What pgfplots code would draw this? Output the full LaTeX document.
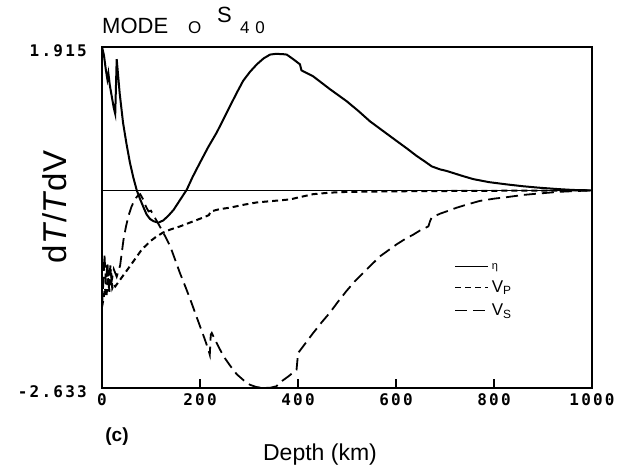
\documentclass[border=0pt]{standalone}
\usepackage{pgfplots}
\pgfplotsset{compat=1.18}
\usepackage{fontspec}
\setmainfont{Liberation Sans}
\newfontfamily\tickfont[LetterSpace=14]{DejaVu Sans Mono}
\begin{document}
\begin{tikzpicture}
\useasboundingbox (-102bp,-87bp) rectangle (515bp,388bp);
\begin{axis}[
  at={(0,0)}, anchor=south west,
  scale only axis, width=490bp, height=341.3bp,
  xmin=0, xmax=1000, ymin=-2.633, ymax=1.915,
  xtick={0,200,400,600,800,1000},
  xticklabels={0,200,400,600,800,1000},
  ytick={-2.633,1.915},
  yticklabels={-2.633,1.915},
  xtick pos=bottom, ytick pos=left,
  tick align=inside,
  major tick length=9bp,
  x tick style={line width=1.4bp, black},
  y tick style={draw=none},
  axis line style={line width=2bp},
  xticklabel style={font=\tickfont\bfseries\fontsize{16bp}{16bp}\selectfont, anchor=north, inner sep=0pt, yshift=-5bp},
  yticklabel style={font=\tickfont\bfseries\fontsize{16bp}{16bp}\selectfont, anchor=east, inner sep=0pt, xshift=-15bp, yshift=-4bp},
  clip=false,
  legend image code/.code={\draw[#1, line width=0.9bp] (0bp,0bp) -- (33bp,0bp);},
  legend style={at={(axis description cs:0.72,0.375)}, anchor=north west, draw=none, fill=none,
    font=\fontsize{17bp}{17bp}\selectfont, row sep=4bp, inner sep=0pt, nodes={inner sep=3bp}},
  legend cell align=left,
]
\addplot[forget plot, black, line width=1.7bp] coordinates {(0,0) (1000,0)};
\addplot[black, line width=2bp] coordinates {
(0,1.915) (4,1.80) (8,1.60) (11,1.48) (13,1.56) (16,1.40) (20,1.25) (24,1.10) (27,1.02) (30,1.75)
(36,1.30) (43,0.90) (50,0.62) (57,0.37) (64,0.17) (71,0.0) (78,-0.12) (85,-0.23) (91,-0.32)
(98,-0.38) (105,-0.41) (115,-0.43) (125,-0.40) (135,-0.34) (146,-0.26) (156,-0.16) (165,-0.07)
(173,0.01) (185,0.18) (200,0.37) (217,0.58) (234,0.77) (248,0.95) (261,1.12) (275,1.30)
(288,1.46) (302,1.58) (316,1.68) (330,1.76) (343,1.81) (355,1.82) (370,1.815) (377,1.81)
(390,1.75) (404,1.68) (407,1.60) (431,1.52) (465,1.35) (499,1.19) (523,1.06) (547,0.92)
(574,0.79) (601,0.66) (622,0.56) (642,0.46) (660,0.38) (673,0.32) (690,0.28) (703,0.26)
(737,0.19) (758,0.15) (790,0.11) (826,0.08) (860,0.055) (894,0.035) (930,0.018) (961,0.006) (1000,0)
};
\addlegendentry{{\fontsize{11bp}{11bp}\selectfont η}}
\addplot[black, line width=2bp, dash pattern=on 6bp off 4bp] coordinates {
(0,-1.55) (3,-1.45) (6,-1.30) (9,-1.42) (12,-1.15) (15,-1.35) (18,-1.05) (21,-1.30) (24,-1.25)
(27,-1.28) (37,-1.19) (47,-1.10) (57,-1.01) (69,-0.90) (81,-0.79) (98,-0.68) (110,-0.62)
(125,-0.56) (140,-0.52) (159,-0.48) (183,-0.42) (207,-0.36) (218,-0.33) (222,-0.28) (240,-0.25)
(261,-0.23) (290,-0.19) (316,-0.16) (350,-0.14) (384,-0.12) (400,-0.095) (431,-0.05) (465,-0.03)
(499,-0.02) (600,-0.012) (700,-0.008) (800,-0.005) (900,-0.002) (1000,0)
};
\addlegendentry{V\textsubscript{P}}
\addplot[black, line width=1.8bp, dash pattern=on 12bp off 6bp] coordinates {
(0,-1.55) (3,-1.2) (5,-0.85) (8,-1.25) (11,-0.95) (14,-1.30) (17,-1.0) (20,-1.2) (24,-1.05)
(30,-1.15) (37,-1.0) (44,-0.65) (49,-0.48) (54,-0.34) (60,-0.22) (67,-0.12) (73,-0.07) (78,-0.05)
(84,-0.12) (90,-0.22) (95,-0.28) (100,-0.27) (105,-0.33) (112,-0.41) (118,-0.48) (128,-0.60)
(139,-0.74) (149,-0.92) (159,-1.10) (170,-1.28) (180,-1.45) (190,-1.63) (200,-1.81) (209,-1.97)
(217,-2.12) (220,-2.19) (222,-1.92) (224,-1.90) (236,-2.06) (248,-2.21) (262,-2.34) (275,-2.45)
(289,-2.53) (302,-2.59) (315,-2.62) (329,-2.633) (343,-2.63) (356,-2.61) (363,-2.56) (380,-2.48)
(397,-2.39) (399,-2.25) (401,-2.16) (416,-2.03) (431,-1.90) (448,-1.76) (465,-1.63) (482,-1.48)
(499,-1.34) (516,-1.21) (533,-1.10) (550,-0.99) (567,-0.88) (584,-0.80) (601,-0.72) (618,-0.65)
(635,-0.59) (650,-0.53) (666,-0.48) (670,-0.40) (673,-0.36) (690,-0.31) (703,-0.28) (724,-0.23)
(744,-0.19) (771,-0.14) (800,-0.11) (826,-0.09) (860,-0.06) (894,-0.04) (930,-0.02) (961,-0.01) (1000,0)
};
\addlegendentry{V\textsubscript{S}}
\end{axis}
% title
\node[anchor=base west, inner sep=0pt, font=\fontsize{22bp}{22bp}\selectfont] at (0bp,354bp) {MODE};
\node[anchor=base west, inner sep=0pt, font=\fontsize{17bp}{17bp}\selectfont] at (86bp,354bp) {O};
\node[anchor=base west, inner sep=0pt, font=\fontsize{22bp}{22bp}\selectfont] at (115bp,365bp) {S};
\node[anchor=base west, inner sep=0pt, font=\fontsize{17bp}{17bp}\selectfont] at (138bp,354bp) {4\,\,0};
% labels
\node[rotate=90, inner sep=0pt, font=\fontsize{33bp}{33bp}\selectfont] at (-47bp,181bp) {d\textit{T}/\textit{T}dV};
\node[inner sep=0pt, font=\fontsize{23bp}{23bp}\selectfont] at (218bp,-67bp) {Depth (km)};
\node[inner sep=0pt, font=\bfseries\fontsize{19bp}{19bp}\selectfont] at (15bp,-49bp) {(c)};
\end{tikzpicture}
\end{document}
